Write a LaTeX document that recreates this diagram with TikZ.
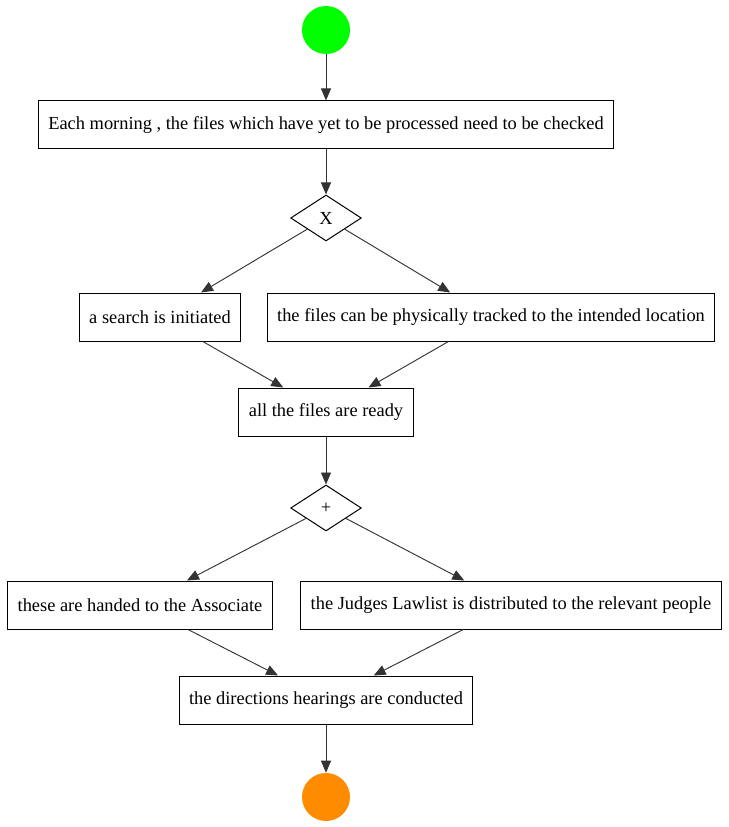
\documentclass[tikz,border=0pt]{standalone}
\usepackage{fontspec}
\setmainfont{Liberation Serif}
\usetikzlibrary{arrows.meta}
\usetikzlibrary{shapes.geometric}
\usetikzlibrary{positioning}

\begin{document}
\begin{tikzpicture}[x=0.75pt,y=-0.75pt,
        every node/.style={font=\fontsize{13.8}{17}\selectfont},
        task/.style={draw,line width=0.75pt,rectangle,minimum height=36pt,inner xsep=7.5pt},
        gate/.style={draw,line width=0.75pt,diamond,minimum width=53pt,minimum height=34.5pt,inner sep=0pt},
        startev/.style={circle,fill={rgb,255:red,0;green,255;blue,0},minimum size=36pt,inner sep=0pt},
        endev/.style={circle,fill={rgb,255:red,255;green,140;blue,0},minimum size=36pt,inner sep=0pt},
        flow/.style={draw=black!80,line width=0.7pt,-{Triangle[length=9pt,width=7.5pt]}}]
        \useasboundingbox (0,0) rectangle (728,827);

        % Events and tasks
        \node[startev] (start) at (326,30) {};
        \node[task] (check) at (326,125) {Each morning , the files which have yet to be processed need to be checked};
        \node[gate] (xor) at (326,218) {X};
        \node[task] (search) at (160,317) {a search is initiated};
        \node[task] (track) at (491,317) {the files can be physically tracked to the intended location};
        \node[task] (ready) at (326,412) {all the files are ready};
        \node[gate] (and) at (326,508) {+};
        \node[task] (hand) at (140,605) {these are handed to the Associate};
        \node[task] (lawlist) at (511,605) {the Judges Lawlist is distributed to the relevant people};
        \node[task] (hear) at (326,700) {the directions hearings are conducted};
        \node[endev] (stop) at (326,797) {};

        % Flows
        \draw[flow] (start) -- (check);
        \draw[flow] (check) -- (xor);
        \draw[flow] (xor) -- (search);
        \draw[flow] (xor) -- (track);
        \draw[flow] (search) -- (ready);
        \draw[flow] (track) -- (ready);
        \draw[flow] (ready) -- (and);
        \draw[flow] (and) -- (hand);
        \draw[flow] (and) -- (lawlist);
        \draw[flow] (hand) -- (hear);
        \draw[flow] (lawlist) -- (hear);
        \draw[flow] (hear) -- (stop);
    \end{tikzpicture}
\end{document}
